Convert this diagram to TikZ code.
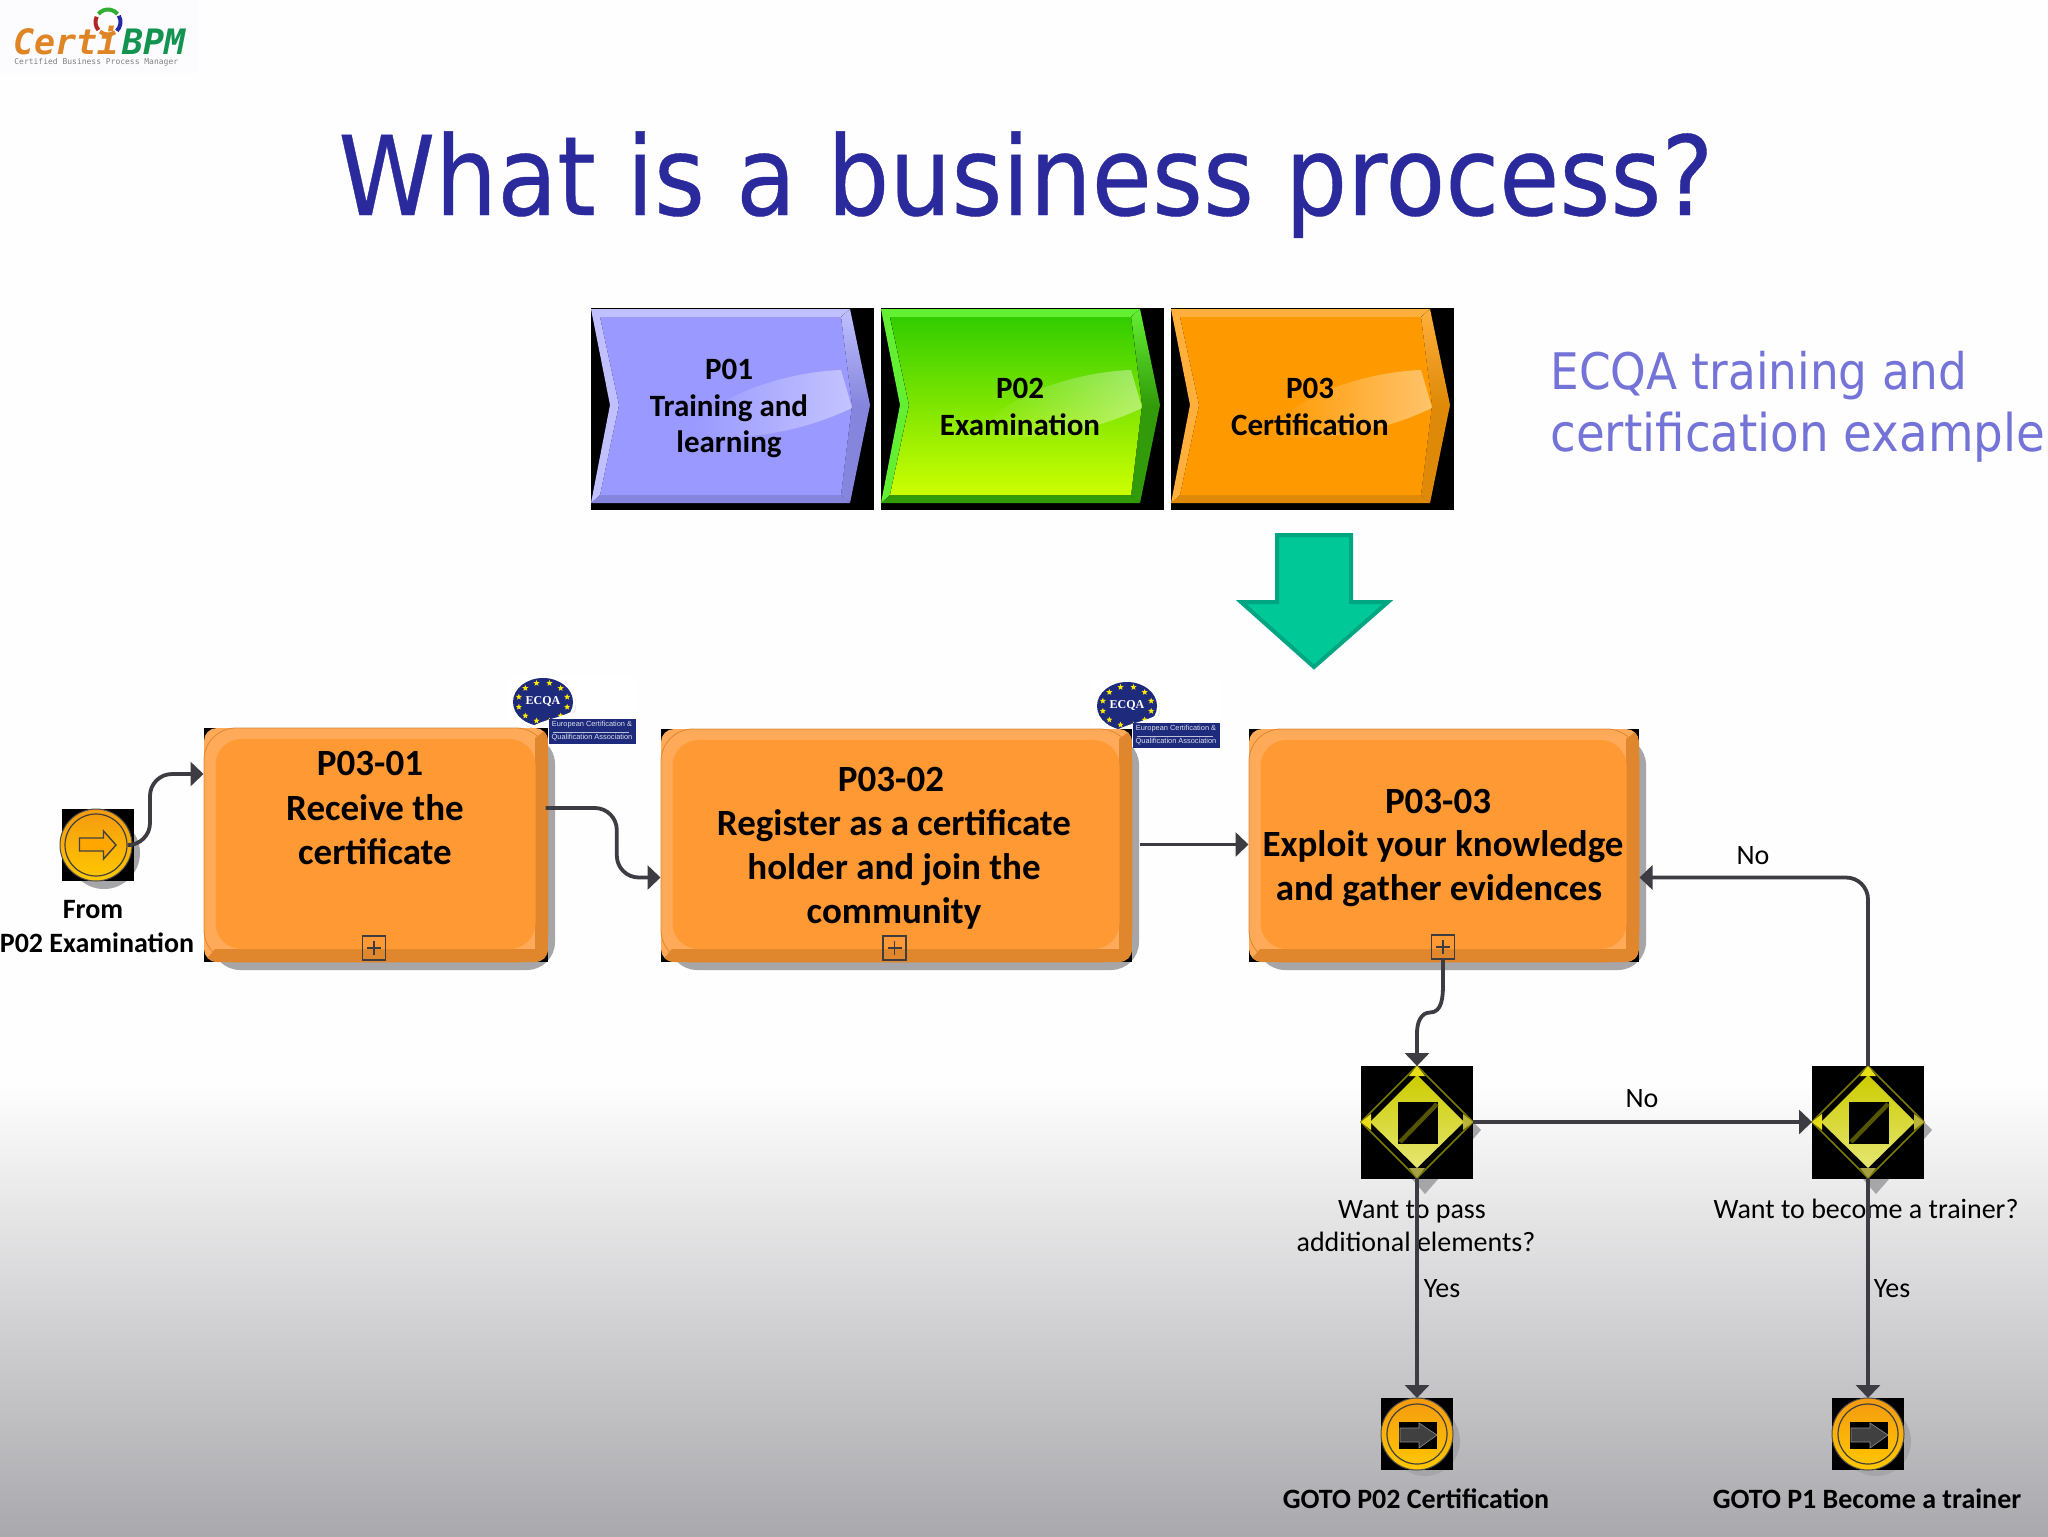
\documentclass[tikz,border=0pt]{standalone}
\usepackage{fontspec}
\setmainfont{Carlito}
\newfontfamily\ttlfont{DejaVu Sans}[FakeStretch=0.89,FakeBold=0.35]
\newfontfamily\sidfont{DejaVu Sans}[FakeStretch=0.9]
\newfontfamily\lgfont{DejaVu Sans Mono}
\newfontfamily\smfont{Liberation Sans}
\newfontfamily\ecfont{Liberation Serif}
\usetikzlibrary{shapes.geometric,arrows.meta,calc,fadings}

\definecolor{ink}{HTML}{3C3C42}
\definecolor{ttlblue}{HTML}{2A2A9C}
\definecolor{sidebl}{HTML}{7474D8}
\definecolor{tskmain}{HTML}{FF9933}
\definecolor{tsklite}{HTML}{FFAA58}
\definecolor{tskdark}{HTML}{E0872E}
\definecolor{shad}{HTML}{A6A6A8}
\definecolor{navy}{HTML}{1E2A7C}
\definecolor{arrowgr}{HTML}{00C896}
\definecolor{arrowln}{HTML}{00A582}
\definecolor{olive}{HTML}{7A7A00}
\definecolor{bgbot}{HTML}{A9A9AD}
\definecolor{evtop}{HTML}{F59A10}
\definecolor{evbot}{HTML}{FFC800}
\definecolor{lgorange}{HTML}{E08526}
\definecolor{lggreen}{HTML}{12934F}
\definecolor{purlite}{HTML}{C0C0FF}
\definecolor{purdark}{HTML}{8585DD}
\definecolor{grnlite}{HTML}{64F032}
\definecolor{grndark}{HTML}{329B0A}
\definecolor{orglite}{HTML}{FFAF3C}
\definecolor{orgdark}{HTML}{DE8A08}

\newcommand{\tskfont}{\fontsize{18.5}{22}\selectfont\bfseries}
\newcommand{\chvfont}{\fontsize{15.5}{18.3}\selectfont\bfseries}
\newcommand{\lblfont}{\fontsize{14}{16.3}\selectfont}
\newcommand{\blbfont}{\fontsize{14}{16.3}\selectfont\bfseries}

% value process chevron: #1 fill options, #2 light bevel, #3 dark bevel
\newcommand{\chev}[3]{%
  \fill[black] (0,0) rectangle (283,202);
  \fill[#2] (0,1) -- (259,1) -- (250,9) -- (9,9) -- (28,97) -- (9,187) -- (0,195) -- (19,97) -- cycle;
  \fill[#3] (0,195) -- (9,187) -- (250,187) -- (259,195) -- cycle;
  \fill[top color=#2,bottom color=#3] (259,1) -- (279,97) -- (261,97) -- (250,9) -- cycle;
  \fill[#3] (279,97) -- (259,195) -- (250,187) -- (261,97) -- cycle;
  \fill[#1] (9,9) -- (250,9) -- (261,97) -- (250,187) -- (9,187) -- (28,97) -- cycle;
  \fill[white,fill opacity=.42,path fading=west] (250,62) -- (261,100) .. controls (210,124) and (160,132) .. (100,129) .. controls (110,92) and (190,64) .. (250,62) -- cycle;}

% subprocess box around node #1, corners (#2,#3) and (#4,#5)
\newcommand{\tskbox}[5]{%
  \fill[shad,rounded corners=14pt] (#2+8,#3+8) rectangle (#4+7,#5+8);
  \fill[black] (#2,#3) rectangle (#4,#5);
  \begin{scope}
    \clip[rounded corners=6.5pt] (#2,#3) rectangle (#4,#5);
    \fill[tsklite] (#2,#3) rectangle (#4,#5);
    \fill[tskdark] (#2,#5) -- (#4,#5) -- (#4,#3) -- (#4-13,#3+10) -- (#4-13,#5-13) -- (#2+11,#5-13) -- cycle;
  \end{scope}
  \draw[tskdark,line width=.4pt,rounded corners=16pt] (#2,#3) rectangle (#4,#5);
  \node[tskinner,minimum width={(#4-#2-24)*.5pt},minimum height={(#5-#3-24)*.5pt}] (#1) at ({(#2+#4)/2-.5},{(#3+#5)/2-1}) {};}

\tikzset{
  flow/.style={draw=ink,line width=1.9pt,rounded corners=11pt,-{Triangle[width=12pt,length=6.5pt]}},
  tskinner/.style={rectangle,rounded corners=13pt,fill=tskmain,inner sep=0pt,outer sep=0pt},
  tsktxt/.style={font=\tskfont,align=center,inner sep=0pt,text=black},
  chvtxt/.style={font=\chvfont,align=center,inner sep=0pt,text=black},
  lbl/.style={font=\lblfont,inner sep=0pt,align=center,text=black},
  blb/.style={font=\blbfont,inner sep=0pt,align=center,text=black},
  plusbox/.style={rectangle,draw=ink,line width=.8pt,minimum width=11.5pt,minimum height=12pt,inner sep=0pt,outer sep=0pt},
  evt/.style={circle,minimum size=36pt,inner sep=0pt,outer sep=0pt,top color=evtop,bottom color=evbot,draw=black!70,line width=.5pt},
  gate/.style={diamond,minimum width=56pt,minimum height=56pt,inner sep=0pt,outer sep=0pt,draw=olive,line width=.8pt},
  ecstar/.style={star,star points=5,star point ratio=2.3,fill=yellow!90!orange,inner sep=0pt,minimum size=3.2pt},
  ecqa/.pic={
    \fill[white] (0,0) rectangle (129,70);
    \fill[black!25] (37,29) ellipse (32 and 26);
    \fill[white] (36,28) ellipse (33 and 26);
    \fill[navy] (36,27) ellipse (30 and 24);
    \foreach \a in {0,30,...,330}
      \node[ecstar] (-s\a) at ({36+25*cos(\a+15)},{27+19.5*sin(\a+15)}) {};
    \node[font=\ecfont\bfseries\fontsize{6}{7}\selectfont,text=white,inner sep=0pt] (-name) at (36,26) {ECQA};
    \fill[white] (24,52) .. controls (38,44) and (50,44) .. (66,36) -- (70,52) -- (40,58) -- cycle;
    \fill[navy] (42,44) rectangle (129,69);
    \node[font=\smfont\fontsize{3.7}{4}\selectfont,text=white!85!navy,inner sep=0pt] (-l1) at (85,50) {European Certification \&};
    \draw[white!70!navy,line width=.2pt] (46,57) -- (122,57);
    \node[font=\smfont\fontsize{3.7}{4}\selectfont,text=white!85!navy,inner sep=0pt] (-l2) at (85,63) {Qualification Association};
  }
}

\begin{document}
\begin{tikzpicture}[x=.5pt,y=-.5pt]
\useasboundingbox (0,0) rectangle (2048,1536);

% slide background
\fill[white!99.5!black] (0,0) rectangle (2048,1085);
\shade[top color=white!99.5!black,bottom color=bgbot] (0,1085) rectangle (2048,1536);

% logo
\fill[blue!1] (0,0) rectangle (198,73);
\begin{scope}[line width=2pt]
  \draw[green!60!black!80!white] ({108+12.5*cos(-140)},{22+12.5*sin(-140)}) arc (-140:-40:12.5);
  \draw[blue!60!black!85!white] ({108+12.5*cos(-30)},{22+12.5*sin(-30)}) arc (-30:45:12.5);
  \draw[lgorange] ({108+12.5*cos(55)},{22+12.5*sin(55)}) arc (55:130:12.5);
  \draw[red!65!black!85!white] ({108+12.5*cos(140)},{22+12.5*sin(140)}) arc (140:205:12.5);
\end{scope}
\node[font=\lgfont\bfseries\itshape\fontsize{17.5}{19}\selectfont,text=lgorange,anchor=base west,inner sep=0pt] (lgcerti) at (13,55) {Certi};
\node[font=\lgfont\bfseries\itshape\fontsize{17.5}{19}\selectfont,text=lggreen,anchor=base west,inner sep=0pt] (lgbpm) at (122,55) {BPM};
\node[font=\lgfont\fontsize{4}{4.4}\selectfont,text=black!50,anchor=base west,inner sep=0pt] (lgsub) at (14,65) {Certified Business Process Manager};

% title
\node[font=\ttlfont\fontsize{55}{60}\selectfont,text=ttlblue,anchor=base west,inner sep=0pt] (title) at (338,215) {What is a business process?};
\node[font=\sidfont\fontsize{25.2}{30}\selectfont,text=sidebl,anchor=base west,inner sep=0pt] (side1) at (1550,389) {ECQA training and};
\node[font=\sidfont\fontsize{26}{30}\selectfont,text=sidebl,anchor=base west,inner sep=0pt] (side2) at (1550,451) {certification example};

% value chain
\begin{scope}[shift={(591,308)}]
  \chev{fill={rgb,255:red,153;green,153;blue,255}}{purlite}{purdark}
\end{scope}
\begin{scope}[shift={(881,308)}]
  \chev{top color={rgb,255:red,50;green,205;blue,0},bottom color={rgb,255:red,205;green,255;blue,0}}{grnlite}{grndark}
\end{scope}
\begin{scope}[shift={(1171,308)}]
  \chev{fill={rgb,255:red,255;green,153;blue,0}}{orglite}{orgdark}
\end{scope}
\node[chvtxt] (p01) at (729,408.5) {P01\\Training and\\learning};
\node[chvtxt] (p02) at (1020,407) {P02\\Examination};
\node[chvtxt] (p03) at (1310,407) {P03\\Certification};

% big arrow down
\draw[fill=arrowgr,draw=arrowln,line width=2pt,line join=miter] (1277,535) -- (1351,535) -- (1351,602) -- (1388,602) -- (1314,667) -- (1241,602) -- (1277,602) -- cycle;

% ecqa logos
\pic (eca) at (507,675) {ecqa};
\pic (ecb) at (1091,679) {ecqa};

% subprocess boxes
\tskbox{t1}{204}{728}{548}{962}
\tskbox{t2}{661}{729}{1132}{962}
\tskbox{t3}{1249}{729}{1639}{962}
\node[tsktxt] (t1a) at (370,763) {P03-01};
\node[tsktxt] (t1b) at (375,830) {Receive the\\certificate};
\node[tsktxt] (t2a) at (891,779) {P03-02};
\node[tsktxt] (t2b) at (894,869.5) {Register as a certificate\\holder and join the\\community};
\node[tsktxt] (t3a) at (1438,801) {P03-03};
\node[tsktxt] (t3b) at (1443,847) {Exploit your knowledge};
\node[tsktxt] (t3c) at (1439,891) {and gather evidences};
\node[plusbox] (m1) at (374,948) {};
\node[plusbox] (m2) at (894.5,948) {};
\node[plusbox] (m3) at (1443,947) {};
\foreach \n in {m1,m2,m3}
  \draw[ink,line width=.6pt] ([yshift=-3.5pt]\n.center) -- ([yshift=3.5pt]\n.center) ([xshift=-3.5pt]\n.center) -- ([xshift=3.5pt]\n.center);

% start event
\fill[shad] (104,853) circle (36);
\fill[black] (62,809) rectangle (134,881);
\node[evt] (ev0) at (96,845) {};
\draw[black!75,line width=.6pt] (ev0.center) circle (31);
\draw[black!75,fill=orange!70!yellow,line width=.7pt] (79.5,838) -- (103.5,838) -- (103.5,831) -- (116,845) -- (103.5,859) -- (103.5,851) -- (79.5,851) -- cycle;

% gateways and end events
\foreach \gx/\nm in {1417/gw1,1868/gw2}{
  \fill[shad] (\gx+8,1122-56+8) -- (\gx+64,1130) -- (\gx+8,1194) -- (\gx-48,1130) -- cycle;
  \fill[black] (\gx-56,1066) rectangle (\gx+56,1179);
  \node[gate] (\nm) at (\gx,1122) {};
  \fill[top color=yellow!80!black,bottom color=yellow!50!white!90!black] (\gx,1075) -- (\gx+47,1122) -- (\gx,1168) -- (\gx-47,1122) -- cycle;
  \fill[yellow!90!black] (\gx,1066) -- (\gx+8,1076) -- (\gx-8,1076) -- cycle;
  \fill[yellow!90!black] (\gx-56,1122) -- (\gx-46,1114) -- (\gx-46,1130) -- cycle;
  \fill[yellow!70!black] (\gx+56,1122) -- (\gx+46,1114) -- (\gx+46,1130) -- cycle;
  \fill[yellow!60!black] (\gx,1178) -- (\gx+8,1168) -- (\gx-8,1168) -- cycle;
  \fill[black] (\gx-19,1102) rectangle (\gx+21,1144);
  \draw[olive!70!black,line width=2.2pt] (\gx-17,1142) -- (\gx+20,1104);
}
\foreach \ex/\nm in {1417/ev1,1868/ev2}{
  \fill[shad] (\ex+8,1441) circle (35);
  \fill[black] (\ex-36,1398) rectangle (\ex+36,1470);
  \node[evt] (\nm) at (\ex,1434) {};
  \draw[black!75,line width=.6pt] (\ex,1434) circle (30);
  \fill[black] (\ex-18,1422) rectangle (\ex+20,1449);
  \fill[black!75,draw=black!45,line width=.3pt] (\ex-17,1428) -- (\ex+2,1428) -- (\ex+2,1423) -- (\ex+20,1435) -- (\ex+2,1448) -- (\ex+2,1442) -- (\ex-17,1442) -- cycle;
}

% labels
\node[blb] (fra) at (93,910) {From};
\node[blb] (frb) at (97,943) {P02 Examination};
\node[lbl,anchor=base] (q1a) at (1412,1218) {Want to pass};
\node[lbl,anchor=base] (q1b) at (1416,1251) {additional elements?};
\node[lbl,anchor=base] (q2) at (1866,1218) {Want to become a trainer?};
\node[blb] (e1) at (1416,1499) {GOTO P02 Certification};
\node[blb] (e2) at (1867,1499) {GOTO P1 Become a trainer};
\node[lbl] (no1) at (1642,1099) {No};
\node[lbl] (no2) at (1753,856) {No};
\node[lbl] (ye1) at (1442,1289) {Yes};
\node[lbl] (ye2) at (1892,1289) {Yes};

% connectors
\coordinate (t1in) at ($(t1.west)+(-12,-70)$);
\coordinate (t1out) at ($(t1.east)+(10,-36)$);
\coordinate (t2in) at ($(t2.west)+(-12,33)$);
\coordinate (t2out) at ($(t2.east)+(20,0)$);
\coordinate (t3w) at ($(t3.west)+(-12,0)$);
\coordinate (t3in) at ($(t3.east)+(13,33)$);
\coordinate (kink) at ($(m3.south)!.5!(gw1.north)$);
\coordinate (bend) at ($(t1out)!.62!(t2in)$);
\draw[flow] (ev0.east) -- ++(18,0) |- (t1in);
\draw[flow] (t1out) -| (bend |- t2in) -- (t2in);
\draw[flow] (t2out) -- (t3w);
\draw[flow,sharp corners] (m3.south) -- ++(0,25) to[out=-90,in=0] (kink) to[out=180,in=90] ++(-13,20) -- (gw1.north);
\draw[flow] (gw1.east) -- (gw2.west);
\draw[flow] (gw2.north) |- (t3in);
\draw[flow] (gw1.south) -- (ev1.north);
\draw[flow] (gw2.south) -- (ev2.north);
\end{tikzpicture}
\end{document}
